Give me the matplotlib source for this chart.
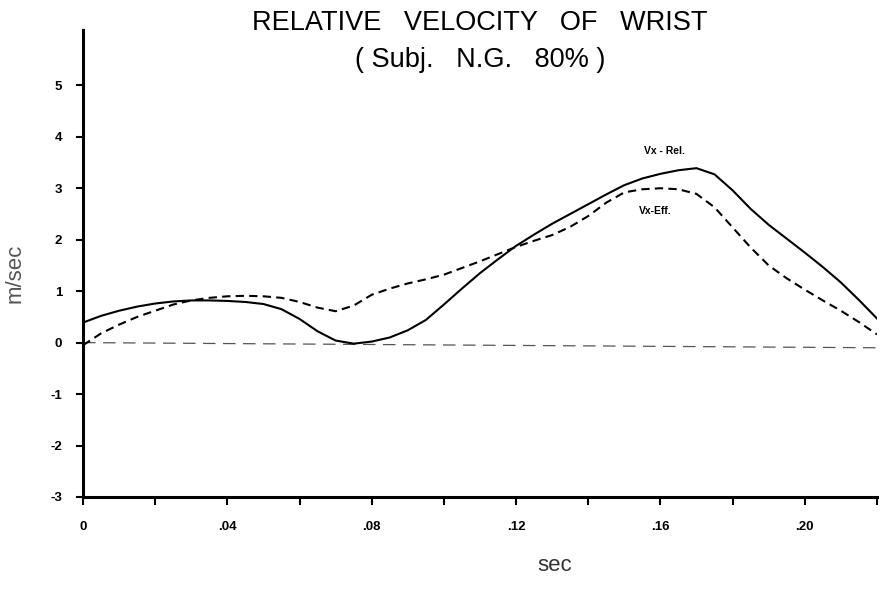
import matplotlib
matplotlib.use("Agg")
import matplotlib.pyplot as plt
from matplotlib.ticker import MultipleLocator

plt.rcParams['font.family'] = ['Liberation Sans', 'DejaVu Sans']
plt.rcParams['axes.unicode_minus'] = False

# time axis (sec)
t = [0, 0.005, 0.01, 0.015, 0.02, 0.025, 0.03, 0.035, 0.04, 0.045,
     0.05, 0.055, 0.06, 0.065, 0.07, 0.075, 0.08, 0.085, 0.09, 0.095,
     0.10, 0.105, 0.11, 0.115, 0.12, 0.125, 0.13, 0.135, 0.14, 0.145,
     0.15, 0.155, 0.16, 0.165, 0.17, 0.175, 0.18, 0.185, 0.19, 0.195,
     0.20, 0.205, 0.21, 0.215, 0.22]

# Vx - Rel. (solid)
vx_rel = [0.39, 0.52, 0.62, 0.70, 0.76, 0.80, 0.82, 0.82, 0.81, 0.79,
          0.75, 0.65, 0.46, 0.22, 0.04, -0.02, 0.02, 0.10, 0.24, 0.44,
          0.74, 1.05, 1.35, 1.62, 1.88, 2.10, 2.31, 2.50, 2.69, 2.88,
          3.06, 3.19, 3.28, 3.35, 3.39, 3.27, 2.96, 2.60, 2.29, 2.02,
          1.75, 1.47, 1.17, 0.83, 0.47]

# Vx-Eff. (dashed)
vx_eff = [-0.05, 0.18, 0.35, 0.50, 0.62, 0.74, 0.82, 0.87, 0.90, 0.91,
          0.90, 0.87, 0.79, 0.68, 0.61, 0.72, 0.93, 1.05, 1.15, 1.23,
          1.32, 1.45, 1.58, 1.72, 1.86, 1.98, 2.09, 2.25, 2.46, 2.72,
          2.92, 2.98, 3.00, 2.98, 2.89, 2.63, 2.24, 1.85, 1.50, 1.25,
          1.03, 0.82, 0.62, 0.40, 0.16]

zero_t = [0, 0.22]
zero_v = [0, -0.1]

x_ticks = [0, 0.04, 0.08, 0.12, 0.16, 0.20]
x_labels = ['0', '.04', '.08', '.12', '.16', '.20']
y_ticks = [-3, -2, -1, 0, 1, 2, 3, 4, 5]
y_labels = ['-3', '-2', '-1', '0', '1', '2', '3', '4', '5']

fig = plt.figure(figsize=(8.89, 6.03), dpi=100)
ax = fig.add_axes([0.0934, 0.1758, 0.893, 0.774])

ax.plot(zero_t, zero_v, color='#555555', linewidth=0.9, linestyle=(0, (10, 6)))
ax.plot(t, vx_rel, color='black', linewidth=1.5)
ax.plot(t, vx_eff, color='black', linewidth=1.5, linestyle=(0, (4, 2.5)))

ax.text(0.161, 3.72, 'Vx - Rel.', fontsize=7.5, fontweight='bold', ha='center', va='center')
ax.text(0.1585, 2.56, 'Vx-Eff.', fontsize=7.5, fontweight='bold', ha='center', va='center')

ax.set_xlim(0, 0.22)
ax.set_ylim(-3, 6.07)

for side in ['top', 'right']:
    ax.spines[side].set_visible(False)
ax.spines['left'].set_linewidth(2.2)
ax.spines['bottom'].set_linewidth(2.2)

ax.set_xticks(x_ticks)
ax.set_xticklabels(x_labels)
ax.xaxis.set_minor_locator(MultipleLocator(0.02))
ax.set_yticks(y_ticks)
ax.set_yticklabels(y_labels)
ax.tick_params(axis='both', which='both', direction='out', width=1.5, labelsize=9.5)
ax.tick_params(axis='x', which='major', length=6, pad=11)
ax.tick_params(axis='x', which='minor', length=6)
ax.tick_params(axis='y', length=5, pad=10)
for lab in ax.get_xticklabels() + ax.get_yticklabels():
    lab.set_fontweight('bold')

ax.set_xlabel('sec', fontsize=16, color='#333333')
ax.xaxis.set_label_coords(0.594, -0.124)
ax.set_ylabel('m/sec', fontsize=16, color='#555555')
ax.yaxis.set_label_coords(-0.072, 0.48)

fig.text(0.54, 0.962, 'RELATIVE   VELOCITY   OF   WRIST', fontsize=19.5, ha='center', va='center')
fig.text(0.54, 0.9, '( Subj.   N.G.   80% )', fontsize=19.5, ha='center', va='center')

fig.savefig('out.png', dpi=100)
